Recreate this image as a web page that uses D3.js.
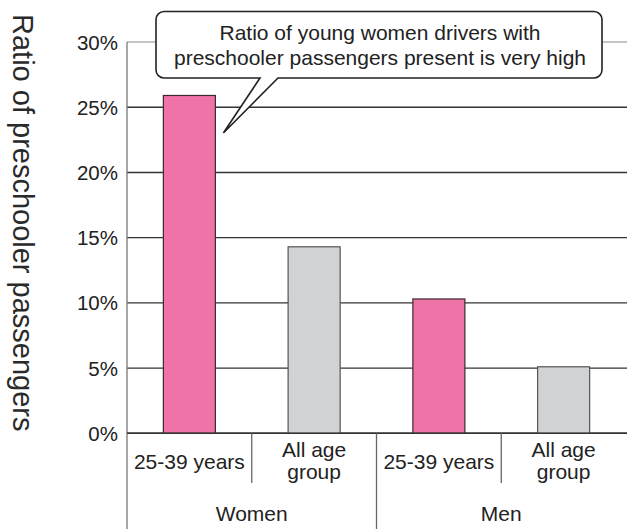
<!DOCTYPE html>
<html>
<head>
<meta charset="utf-8">
<script src="https://cdn.jsdelivr.net/npm/d3@7"></script>
<style>
  html, body { margin: 0; padding: 0; background: #fff; }
  svg { display: block; font-family: "Liberation Sans", Arial, Helvetica, sans-serif; }
</style>
</head>
<body>
<svg id="chart" width="627" height="529"></svg>
<script>
// Share of trips with preschool-age passengers, by driver sex and age group
const groups = ["Women", "Men"];
const ageGroups = ["25-39 years", "All age\ngroup"];
const values = [25.9, 14.3, 10.3, 5.1];           // percent, Women then Men
const barColors = ["#f073a8", "#d1d2d4"];          // 25-39 years, all ages
const yTicks = [0, 5, 10, 15, 20, 25, 30];
const yTitle = "Ratio of preschooler passengers";
const calloutLines = ["Ratio of young women drivers with",
                      "preschooler passengers present is very high"];

(function () {
const svg = d3.select("#chart");
const plotLeft = 127, plotRight = 626, plotTop = 42, plotBottom = 433.3;

const cells = [];
groups.forEach((g, gi) => ageGroups.forEach((a, ai) => {
  cells.push({ key: g + "|" + ai, group: g, age: a, ai, value: values[gi * ageGroups.length + ai] });
}));

const x = d3.scaleBand().domain(cells.map(d => d.key)).range([plotLeft, plotRight]).padding(0);
const xGroup = d3.scaleBand().domain(groups).range([plotLeft, plotRight]).padding(0);
const y = d3.scaleLinear().domain([0, 30]).range([plotBottom, plotTop]);
const barW = x.bandwidth() * 0.417;

// Horizontal gridlines (top one lighter)
svg.append("g").selectAll("line").data(yTicks).join("line")
  .attr("x1", plotLeft).attr("x2", 627)
  .attr("y1", d => y(d)).attr("y2", d => y(d))
  .attr("stroke", d => d === 30 ? "#8a8a8a" : "#333")
  .attr("stroke-width", d => d === 30 ? 1.2 : 1.4);

// Y tick labels
svg.append("g").selectAll("text").data(yTicks).join("text")
  .attr("x", 118).attr("y", d => y(d) + 7.5)
  .attr("text-anchor", "end")
  .attr("font-size", 20.5).attr("fill", "#222")
  .text(d => d + "%");

// Left axis line extends into the category label area
svg.append("line")
  .attr("x1", plotLeft).attr("x2", plotLeft).attr("y1", plotTop).attr("y2", 529)
  .attr("stroke", "#777").attr("stroke-width", 1.3);

// Bars
svg.append("g").selectAll("rect").data(cells).join("rect")
  .attr("x", d => x(d.key) + (x.bandwidth() - barW) / 2)
  .attr("width", barW)
  .attr("y", d => y(d.value))
  .attr("height", d => y(0) - y(d.value))
  .attr("fill", d => barColors[d.ai])
  .attr("stroke", d => d.ai === 0 ? "#3a2a30" : "#555")
  .attr("stroke-width", 1.2);

// Baseline redrawn over the bars
svg.append("line")
  .attr("x1", plotLeft).attr("x2", 627).attr("y1", y(0)).attr("y2", y(0))
  .attr("stroke", "#333").attr("stroke-width", 1.4);

// Dividers between sub-categories (short) and between groups (full height)
const subDividers = cells.filter(d => d.ai === 1).map(d => x(d.key));
svg.append("g").selectAll("line").data(subDividers).join("line")
  .attr("x1", d => d).attr("x2", d => d)
  .attr("y1", y(0)).attr("y2", 483)
  .attr("stroke", "#666").attr("stroke-width", 1.3);
svg.append("g").selectAll("line").data(groups.slice(1)).join("line")
  .attr("x1", d => xGroup(d)).attr("x2", d => xGroup(d))
  .attr("y1", y(0)).attr("y2", 529)
  .attr("stroke", "#666").attr("stroke-width", 1.3);

// Sub-category labels
const subLab = svg.append("g").selectAll("text").data(cells).join("text")
  .attr("text-anchor", "middle")
  .attr("font-size", 21).attr("fill", "#222");
subLab.each(function (d) {
  const lines = d.age.split("\n");
  const cx = x(d.key) + x.bandwidth() / 2;
  const base = lines.length === 1 ? 468.5 : 456.5;
  d3.select(this).selectAll("tspan").data(lines).join("tspan")
    .attr("x", cx).attr("y", (l, i) => base + i * 22)
    .text(l => l);
});

// Group labels
svg.append("g").selectAll("text").data(groups).join("text")
  .attr("x", d => xGroup(d) + xGroup.bandwidth() / 2)
  .attr("y", 520.5)
  .attr("text-anchor", "middle")
  .attr("font-size", 21).attr("fill", "#222")
  .text(d => d);

// Y axis title, reading top to bottom
svg.append("text")
  .attr("transform", "translate(13,14) rotate(90)")
  .attr("font-size", 29).attr("fill", "#2a2a2a")
  .text(yTitle);

// Callout bubble pointing at the women 25-39 bar
const bx0 = 156, by0 = 11.5, bx1 = 602, by1 = 78, r = 8;
const tipX = x(cells[0].key) + x.bandwidth() / 2 + 34, tipY = 133;
const p = d3.path();
p.moveTo(bx0 + r, by0);
p.lineTo(bx1 - r, by0);
p.arcTo(bx1, by0, bx1, by0 + r, r);
p.lineTo(bx1, by1 - r);
p.arcTo(bx1, by1, bx1 - r, by1, r);
p.lineTo(278, by1);
p.lineTo(tipX, tipY);
p.lineTo(260, by1);
p.lineTo(bx0 + r, by1);
p.arcTo(bx0, by1, bx0, by1 - r, r);
p.lineTo(bx0, by0 + r);
p.arcTo(bx0, by0, bx0 + r, by0, r);
p.closePath();
svg.append("path").attr("d", p.toString())
  .attr("fill", "#fff").attr("stroke", "#222").attr("stroke-width", 1.6)
  .attr("stroke-linejoin", "miter");

svg.append("g").selectAll("text").data(calloutLines).join("text")
  .attr("x", (bx0 + bx1) / 2 + 1)
  .attr("y", (d, i) => 39.5 + i * 25.5)
  .attr("text-anchor", "middle")
  .attr("font-size", 21).attr("fill", "#222")
  .text(d => d);
})();
</script>
</body>
</html>
